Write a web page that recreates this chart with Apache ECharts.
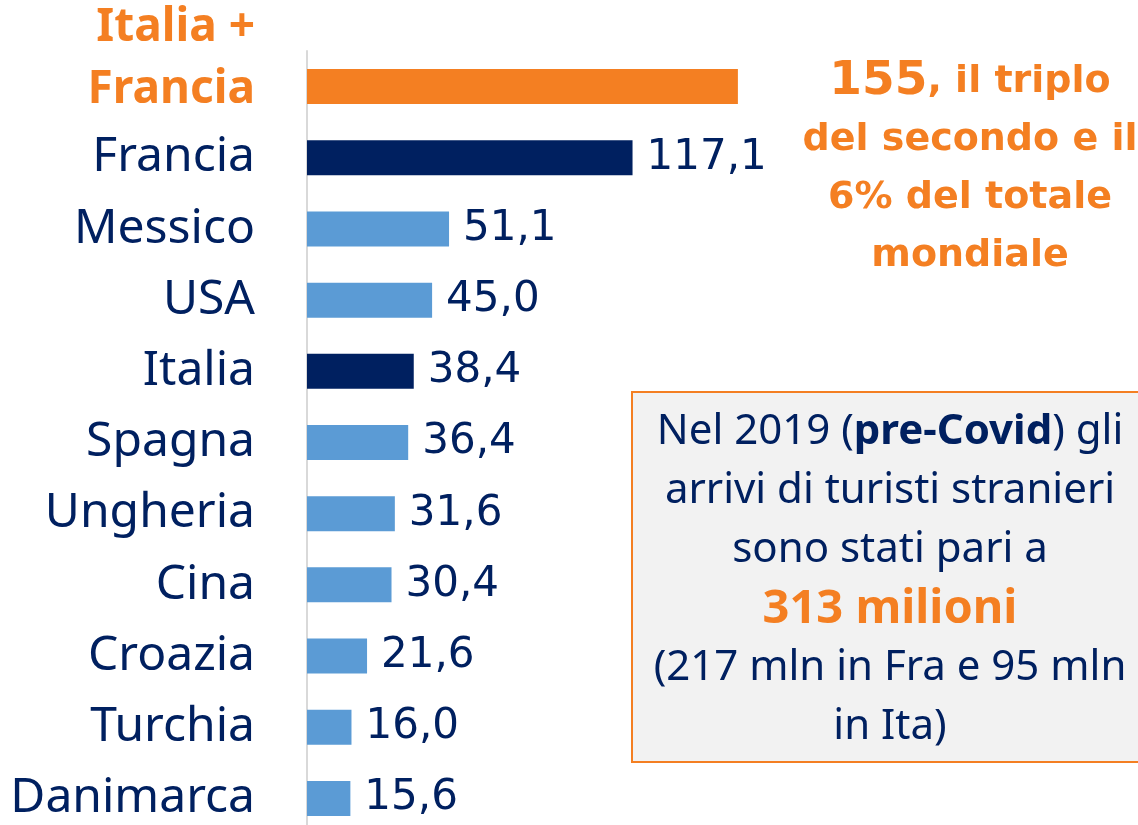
<!DOCTYPE html>
<html>
<head>
<meta charset="utf-8">
<script src="https://cdn.jsdelivr.net/npm/echarts@6/dist/echarts.min.js"></script>
<style>
  html, body { margin: 0; padding: 0; background: #fff; }
  #graph { width: 1138px; height: 825px; }
</style>
</head>
<body>
<div id="graph"></div>
<script>
// dati (milioni di arrivi)
var paesi = ['Italia + Francia', 'Francia', 'Messico', 'USA', 'Italia', 'Spagna',
             'Ungheria', 'Cina', 'Croazia', 'Turchia', 'Danimarca'];
var arrivi = [155, 117.1, 51.1, 45.0, 38.4, 36.4, 31.6, 30.4, 21.6, 16.0, 15.6];
var gruppo = ['somma', 'evidenza', 'altro', 'altro', 'evidenza', 'altro',
              'altro', 'altro', 'altro', 'altro', 'altro'];

var ARANCIO = '#F47F22';
var BLU = '#002060';
var AZZURRO = '#5B9BD5';
var colori = { somma: ARANCIO, evidenza: BLU, altro: AZZURRO };

var myChart = echarts.init(document.getElementById('graph'));

var option = {
    backgroundColor: '#fff',
    animation: false,
    grid: {
        left: 307,
        top: 51,
        width: 556,
        height: 783,
        outerBoundsMode: 'none'
    },
    xAxis: {
        type: 'value',
        min: 0,
        max: 200,
        show: false
    },
    yAxis: {
        type: 'category',
        inverse: true,
        data: paesi,
        axisTick: { show: false },
        axisLine: {
            show: true,
            lineStyle: { color: '#D9D9D9', width: 2 }
        },
        axisLabel: {
            interval: 0,
            hideOverlap: false,
            margin: 52,
            color: BLU,
            fontFamily: 'Noto Sans',
            fontSize: 48,
            formatter: function (v) {
                if (v === 'Italia + Francia') {
                    return '{o|Italia +}\n{o|Francia}\n{e|}';
                }
                return v;
            },
            rich: {
                o: {
                    color: ARANCIO,
                    fontWeight: 'bold',
                    fontFamily: 'Noto Sans',
                    fontSize: 46,
                    lineHeight: 62,
                    align: 'right'
                },
                e: { lineHeight: 56, fontSize: 10 }
            }
        }
    },
    series: [{
        type: 'bar',
        barWidth: 35,
        data: arrivi.map(function (v, i) {
            return {
                value: v,
                itemStyle: { color: colori[gruppo[i]] },
                label: { show: gruppo[i] !== 'somma' }
            };
        }),
        label: {
            show: true,
            position: 'right',
            distance: 14,
            color: BLU,
            fontFamily: 'DejaVu Sans',
            fontSize: 42,
            formatter: function (p) {
                return p.value.toFixed(1).replace('.', ',');
            }
        }
    }],
    graphic: [
        {
            type: 'text',
            x: 970,
            y: 53,
            style: {
                text: '{big|155}{med|, il triplo}\n{med|del secondo e il}\n{med|6% del totale}\n{med|mondiale}',
                align: 'center',
                verticalAlign: 'top',
                rich: {
                    big: { fontFamily: 'DejaVu Sans', fontWeight: 'bold', fontSize: 47, lineHeight: 58, fill: ARANCIO, align: 'center' },
                    med: { fontFamily: 'DejaVu Sans', fontWeight: 'bold', fontSize: 38, lineHeight: 58, fill: ARANCIO, align: 'center' }
                }
            }
        },
        {
            type: 'rect',
            shape: { x: 632, y: 392, width: 520, height: 370 },
            style: { fill: '#F2F2F2', stroke: ARANCIO, lineWidth: 2 }
        },
        {
            type: 'text',
            x: 890,
            y: 403,
            style: {
                text: '{n|Nel 2019 (}{b|pre-Covid}{n|) gli}\n{n|arrivi di turisti stranieri}\n{n|sono stati pari a}\n{o|313 milioni}\n{n|(217 mln in Fra e 95 mln}\n{n|in Ita)}',
                align: 'center',
                verticalAlign: 'top',
                rich: {
                    n: { fontFamily: 'Noto Sans', fontSize: 42, lineHeight: 59, fill: BLU, align: 'center' },
                    b: { fontFamily: 'Noto Sans', fontWeight: 'bold', fontSize: 42, lineHeight: 59, fill: BLU, align: 'center' },
                    o: { fontFamily: 'Noto Sans', fontWeight: 'bold', fontSize: 47, lineHeight: 59, fill: ARANCIO, align: 'center' }
                }
            }
        }
    ]
};

myChart.setOption(option);
</script>
</body>
</html>
